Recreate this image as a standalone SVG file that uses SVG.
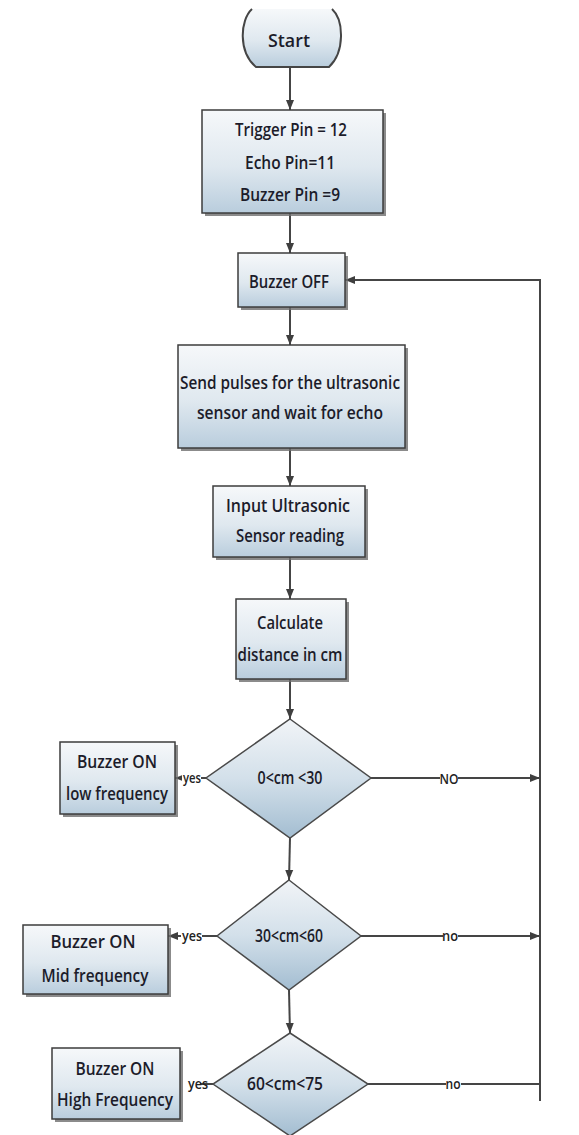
<svg xmlns="http://www.w3.org/2000/svg" width="579" height="1135" viewBox="0 0 579 1135">
<defs>
<linearGradient id="gb" x1="0" y1="0" x2="0" y2="1">
<stop offset="0" stop-color="#f6f8fa"/>
<stop offset="0.55" stop-color="#dfe8ef"/>
<stop offset="1" stop-color="#b9cddd"/>
</linearGradient>
<linearGradient id="gd" x1="0" y1="0" x2="0" y2="1">
<stop offset="0" stop-color="#f1f4f7"/>
<stop offset="0.5" stop-color="#d3e0ea"/>
<stop offset="1" stop-color="#a3bdd1"/>
</linearGradient>
<marker id="ah" markerUnits="userSpaceOnUse" markerWidth="10" markerHeight="10" viewBox="0 0 10 10" refX="10" refY="5" orient="auto">
<path d="M0,1 L10,5 L0,9 Z" fill="#3f3f3f"/>
</marker>
<style>
.box{fill:url(#gb);stroke:#3d3d3d;stroke-width:1.5}
.dia{fill:url(#gd);stroke:#4a4a4a;stroke-width:1.5}
.sh{fill:#6e6e6e;opacity:0.8}
.t{font-family:"Open Sans","Liberation Sans",sans-serif;font-size:18px;fill:#1c1c2a;text-anchor:middle;font-weight:600}
.lb{font-family:"Open Sans","Liberation Sans",sans-serif;font-size:15px;fill:#222222;text-anchor:middle;font-weight:600}
.c{stroke:#454545;stroke-width:2;fill:none}
.bg{fill:#ffffff}
</style>
</defs>
<rect width="579" height="1135" fill="#ffffff"/>

<g id="connectors">
<line class="c" x1="290" y1="68" x2="290" y2="110" marker-end="url(#ah)"/>
<line class="c" x1="290" y1="213" x2="290" y2="253" marker-end="url(#ah)"/>
<line class="c" x1="290" y1="307" x2="290" y2="345" marker-end="url(#ah)"/>
<line class="c" x1="290" y1="448" x2="290" y2="486" marker-end="url(#ah)"/>
<line class="c" x1="290" y1="557" x2="290" y2="599" marker-end="url(#ah)"/>
<line class="c" x1="290" y1="679" x2="290" y2="719" marker-end="url(#ah)"/>
<line class="c" x1="290" y1="838" x2="289" y2="880" marker-end="url(#ah)"/>
<line class="c" x1="289" y1="990" x2="290" y2="1033" marker-end="url(#ah)"/>
<line class="c" x1="371" y1="778" x2="540" y2="778" marker-end="url(#ah)"/>
<line class="c" x1="361" y1="936" x2="540" y2="936" marker-end="url(#ah)"/>
<line class="c" x1="368" y1="1084" x2="540" y2="1084"/>
<polyline class="c" points="540,1101 540,280 345,280" marker-end="url(#ah)"/>
<line class="c" x1="206" y1="778" x2="175" y2="778" marker-end="url(#ah)"/>
<line class="c" x1="217" y1="936" x2="168" y2="936" marker-end="url(#ah)"/>
<line class="c" x1="213" y1="1084" x2="200" y2="1084"/>
<rect class="bg" x="182" y="771" width="19" height="13"/>
<text class="lb" x="192" y="783" textLength="18" lengthAdjust="spacingAndGlyphs">yes</text>
<rect class="bg" x="181" y="929" width="21" height="13"/>
<text class="lb" x="192" y="941" textLength="20" lengthAdjust="spacingAndGlyphs">yes</text>
<text class="lb" x="198" y="1089" textLength="20" lengthAdjust="spacingAndGlyphs">yes</text>
<rect class="bg" x="440" y="771" width="18" height="13"/>
<text class="lb" x="449" y="784" font-size="16" textLength="19" lengthAdjust="spacingAndGlyphs">NO</text>
<rect class="bg" x="443" y="930" width="15" height="11"/>
<text class="lb" x="450" y="941" textLength="16" lengthAdjust="spacingAndGlyphs">no</text>
<rect class="bg" x="446" y="1078" width="15" height="11"/>
<text class="lb" x="453" y="1089" textLength="15" lengthAdjust="spacingAndGlyphs">no</text>
</g>

<g id="start">
<path d="M252,9 C240,20 238,52 256,67 L329,67 C345,52 344,20 332,9 Z" fill="url(#gb)"/>
<path class="c" d="M252,9 C240,20 238,52 256,67 L329,67 C345,52 344,20 332,9" stroke="#3d3d3d" stroke-width="1.5"/>
<text class="t" x="289" y="47" font-size="21" textLength="42" lengthAdjust="spacingAndGlyphs">Start</text>
</g>

<g id="init">
<rect class="sh" x="205" y="113" width="181" height="103"/>
<rect class="box" x="202" y="110" width="181" height="103"/>
<text class="t" x="291" y="136" textLength="112" lengthAdjust="spacingAndGlyphs">Trigger Pin = 12</text>
<text class="t" x="290" y="169" textLength="90" lengthAdjust="spacingAndGlyphs">Echo Pin=11</text>
<text class="t" x="290" y="201" textLength="100" lengthAdjust="spacingAndGlyphs">Buzzer Pin =9</text>
</g>

<g id="buzzer-off">
<rect class="sh" x="241" y="256" width="107" height="54"/>
<rect class="box" x="238" y="253" width="107" height="54"/>
<text class="t" x="289" y="288" textLength="80" lengthAdjust="spacingAndGlyphs">Buzzer OFF</text>
</g>

<g id="send">
<rect class="sh" x="181" y="348" width="227" height="103"/>
<rect class="box" x="178" y="345" width="227" height="103"/>
<text class="t" x="290" y="389" textLength="220" lengthAdjust="spacingAndGlyphs">Send pulses for the ultrasonic</text>
<text class="t" x="290" y="419" textLength="186" lengthAdjust="spacingAndGlyphs">sensor and wait for echo</text>
</g>

<g id="input">
<rect class="sh" x="216" y="489" width="152" height="71"/>
<rect class="box" x="213" y="486" width="152" height="71"/>
<text class="t" x="288" y="512" textLength="124" lengthAdjust="spacingAndGlyphs">Input Ultrasonic</text>
<text class="t" x="290" y="542" textLength="108" lengthAdjust="spacingAndGlyphs">Sensor reading</text>
</g>

<g id="calculate">
<rect class="sh" x="239" y="602" width="110" height="80"/>
<rect class="box" x="236" y="599" width="110" height="80"/>
<text class="t" x="290" y="629" textLength="66" lengthAdjust="spacingAndGlyphs">Calculate</text>
<text class="t" x="290" y="661" textLength="105" lengthAdjust="spacingAndGlyphs">distance in cm</text>
</g>

<g id="dec1">
<polygon class="dia" points="290,719 371,778 290,838 206,778"/>
<text class="t" x="290" y="784" font-size="17" textLength="65" lengthAdjust="spacingAndGlyphs">0&lt;cm &lt;30</text>
</g>

<g id="low">
<rect class="sh" x="63" y="745" width="115" height="72"/>
<rect class="box" x="60" y="742" width="115" height="72"/>
<text class="t" x="117" y="768" textLength="80" lengthAdjust="spacingAndGlyphs">Buzzer ON</text>
<text class="t" x="117" y="800" textLength="102" lengthAdjust="spacingAndGlyphs">low frequency</text>
</g>

<g id="dec2">
<polygon class="dia" points="289,880 361,936 289,990 217,936"/>
<text class="t" x="289" y="942" font-size="17" textLength="68" lengthAdjust="spacingAndGlyphs">30&lt;cm&lt;60</text>
</g>

<g id="mid">
<rect class="sh" x="26" y="928" width="145" height="69"/>
<rect class="box" x="23" y="925" width="145" height="69"/>
<text class="t" x="93" y="948" textLength="85" lengthAdjust="spacingAndGlyphs">Buzzer ON</text>
<text class="t" x="95" y="982" textLength="107" lengthAdjust="spacingAndGlyphs">Mid frequency</text>
</g>

<g id="dec3">
<polygon class="dia" points="290,1033 368,1084 290,1136 213,1084"/>
<text class="t" x="285" y="1090" font-size="17" textLength="76" lengthAdjust="spacingAndGlyphs">60&lt;cm&lt;75</text>
</g>

<g id="high">
<rect class="sh" x="55" y="1051" width="128" height="71"/>
<rect class="box" x="52" y="1048" width="128" height="71"/>
<text class="t" x="115" y="1075" textLength="79" lengthAdjust="spacingAndGlyphs">Buzzer ON</text>
<text class="t" x="115" y="1106" textLength="116" lengthAdjust="spacingAndGlyphs">High Frequency</text>
</g>
</svg>
